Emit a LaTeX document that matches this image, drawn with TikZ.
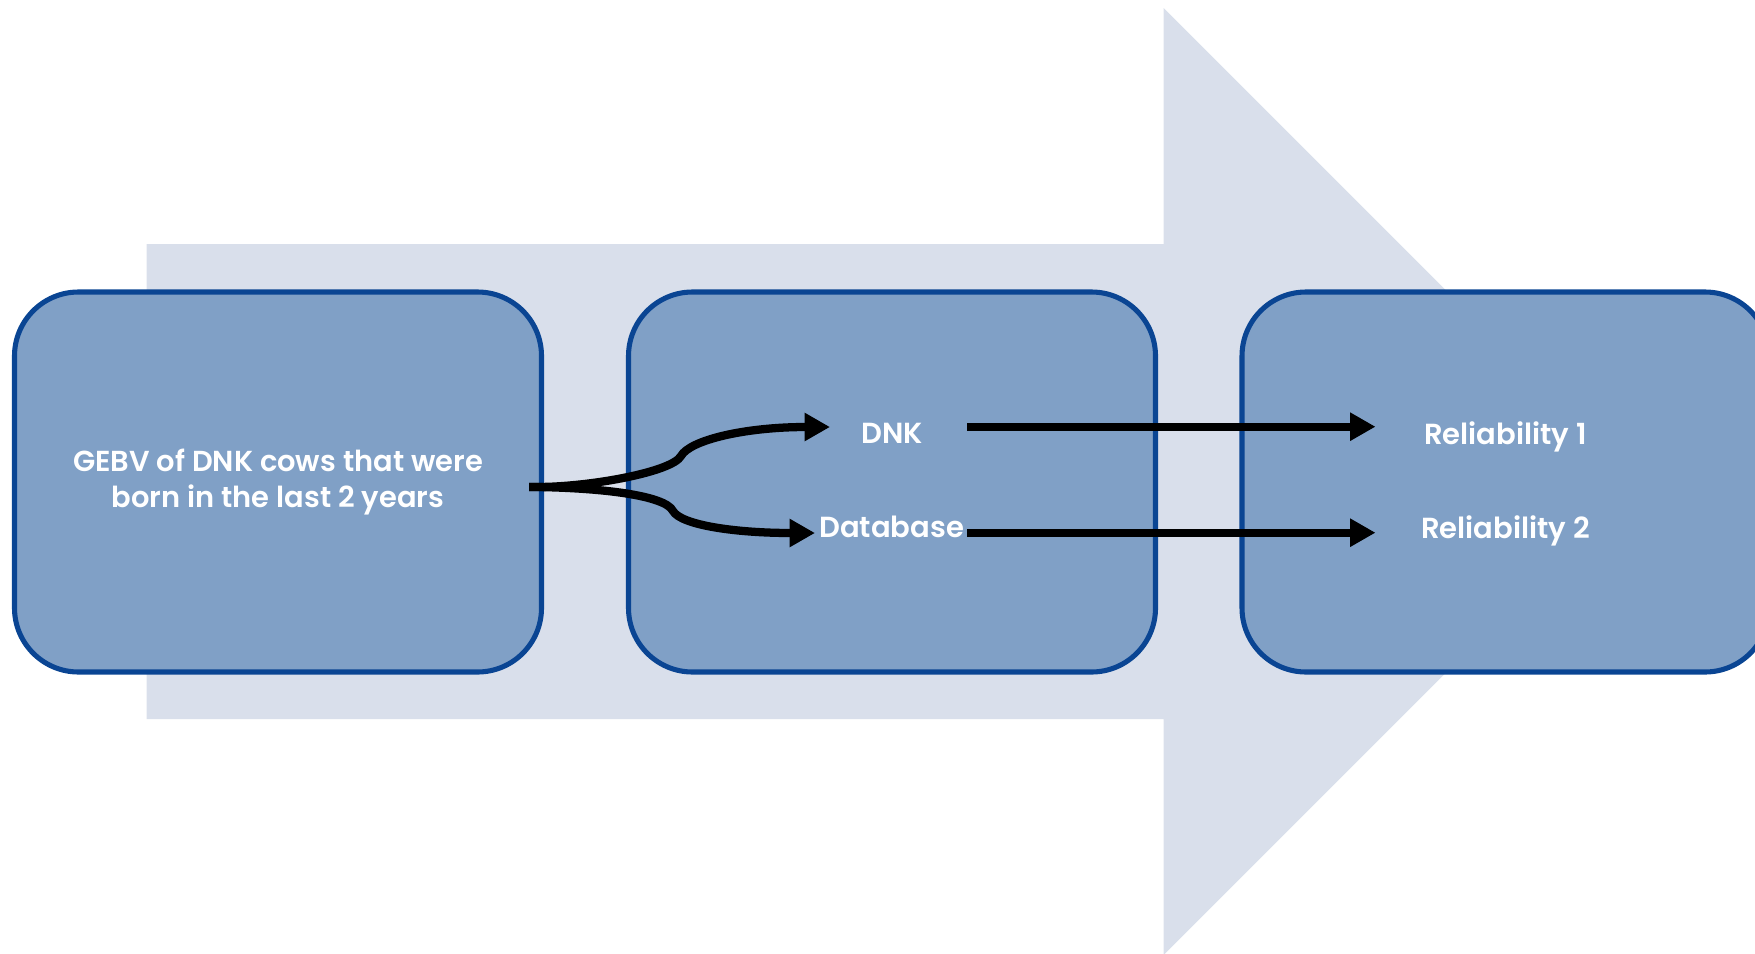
\documentclass[tikz,border=0pt]{standalone}
\usepackage{fontspec}
\IfFontExistsTF{Poppins SemiBold}{\setmainfont{Poppins SemiBold}}{\setmainfont{Poppins}[UprightFont=*-Medium]}
\usetikzlibrary{arrows.meta,calc}

\definecolor{flowbg}{HTML}{D9DFEB}
\definecolor{boxfill}{HTML}{80A0C6}
\definecolor{boxline}{HTML}{0A4593}

\begin{document}
\begin{tikzpicture}[x=0.75pt,y=-0.75pt,
  stage/.style={draw=boxline, line width=3.8pt, fill=boxfill,
    rounded corners=48pt, minimum width=395.25pt, minimum height=285pt,
    text=white, align=center, inner sep=0pt,
    font=\fontsize{21.7}{27}\selectfont},
  lab/.style={text=white, inner sep=0pt, font=\fontsize{21.8}{26}\selectfont},
  conn/.style={line width=6.2pt, -{Triangle[length=19pt,width=20pt]}}
]
\useasboundingbox (0,0) rectangle (1755,953);
\clip (0,0) rectangle (1755,953);

% large pale arrow in the background
\fill[flowbg] (146.5,244) -- (1163.5,244) -- (1163.5,8) -- (1637,481.5)
  -- (1163.5,955) -- (1163.5,719) -- (146.5,719) -- cycle;

% the three stages
\node[stage] (b1) at (278,482) {GEBV of DNK cows that were\\born in the last 2 years};
\node[stage] (b2) at (892,482) {};
\node[stage] (b3) at (1505.5,482) {};

% labels
\node[lab, anchor=base] (dnk) at (892,443.3) {DNK};
\node[lab, anchor=base] (db)  at (891.7,537.3) {Database};
\node[lab, anchor=base] (r1)  at (1505.5,444) {Reliability 1};
\node[lab, anchor=base] (r2)  at (1505.5,538.3) {Reliability 2};

% fork from the first stage into the two sources
\coordinate (fork) at (529,487);
\coordinate (tipdnk) at (830,427);
\coordinate (tipdb) at (815,533);
\draw[conn] (fork) -- (537,487) .. controls (590,487) and (672,472) .. (681,456)
  .. controls (690,440) and (745,427) .. (tipdnk);
\draw[conn] (fork) -- (537,487) .. controls (600,488) and (665,495) .. (673,511)
  .. controls (681,525) and (735,533) .. (tipdb);

% sources to reliabilities
\draw[conn] ($(b2.center)+(75,-55.3)$) -- ($(b3.center)+(-130,-55.3)$);
\draw[conn] ($(b2.center)+(75,50.7)$) -- ($(b3.center)+(-130,50.7)$);
\end{tikzpicture}
\end{document}
